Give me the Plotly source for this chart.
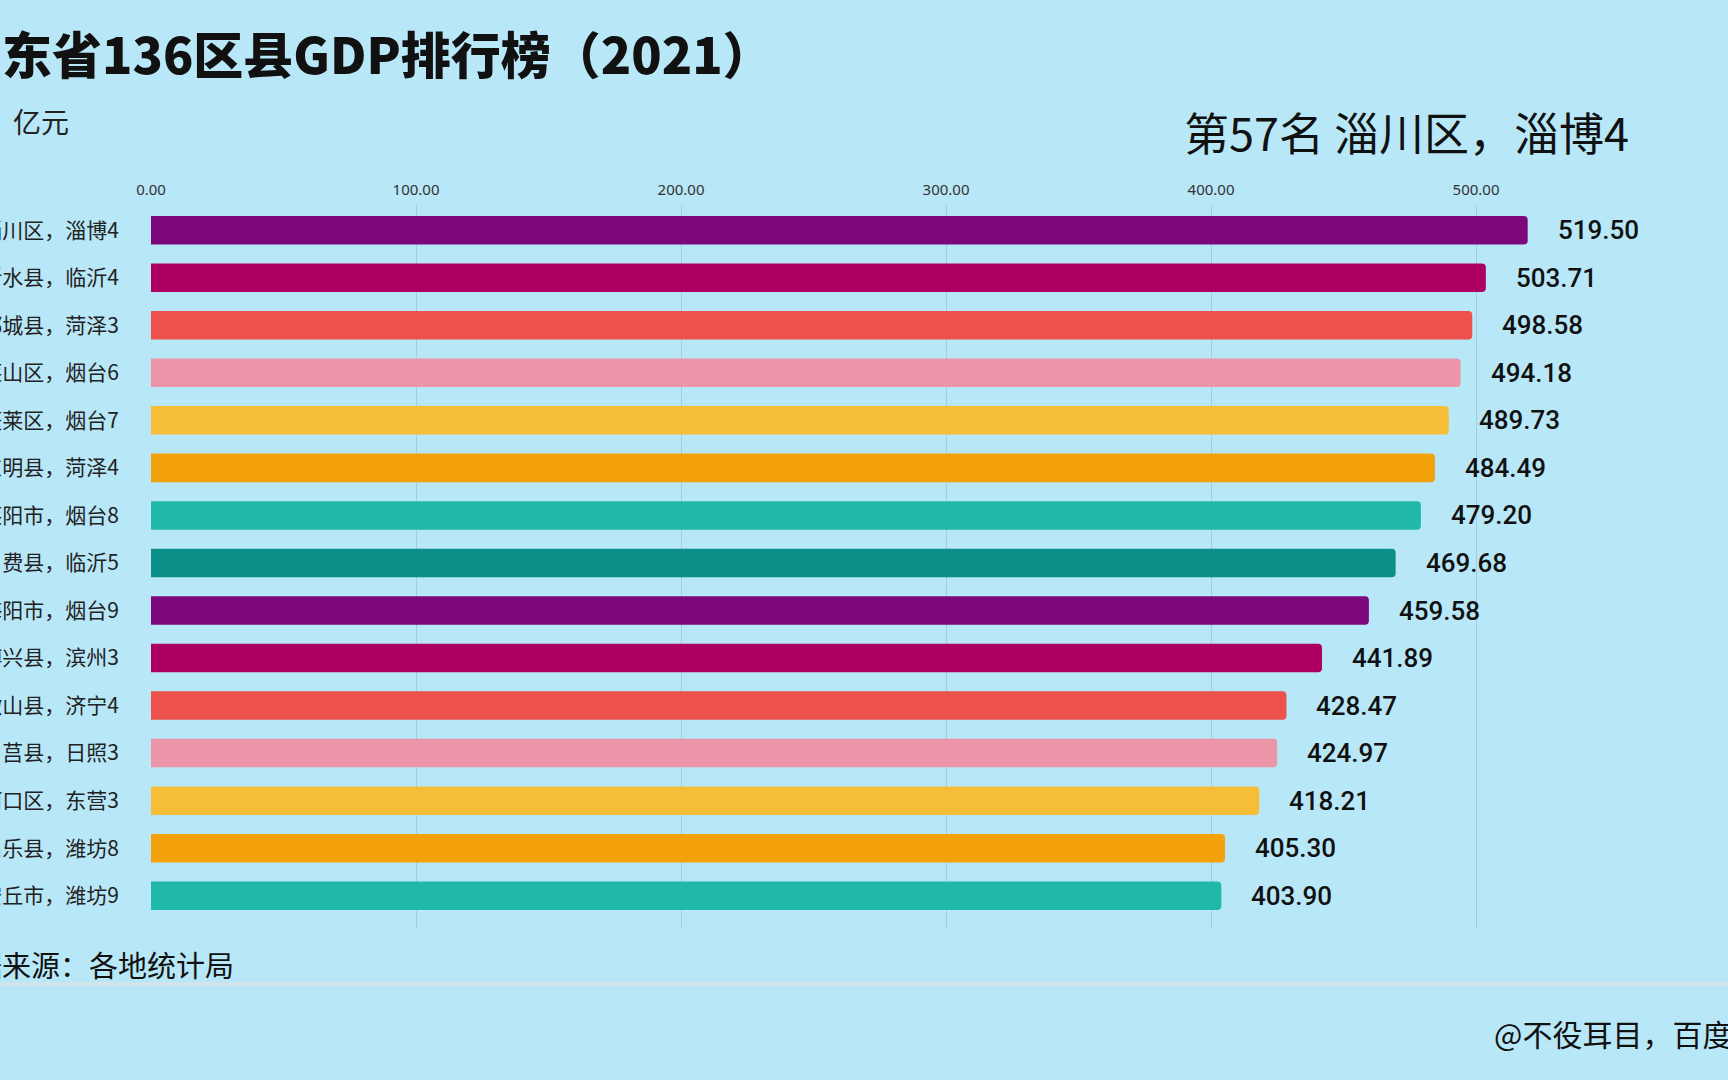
import plotly.graph_objects as go

# 数据
names = ['淄川区，淄博4', '沂水县，临沂4', '郓城县，菏泽3', '莱山区，烟台6', '蓬莱区，烟台7',
         '东明县，菏泽4', '莱阳市，烟台8', '费县，临沂5', '海阳市，烟台9', '博兴县，滨州3',
         '微山县，济宁4', '莒县，日照3', '河口区，东营3', '昌乐县，潍坊8', '安丘市，潍坊9']
gdp = [519.50, 503.71, 498.58, 494.18, 489.73, 484.49, 479.20, 469.68, 459.58, 441.89,
       428.47, 424.97, 418.21, 405.30, 403.90]
tick_vals = [0, 100, 200, 300, 400, 500]

palette = ['#7c077c', '#ad0062', '#ec524b', '#ec95a9', '#f6bd36', '#f3a20b', '#20b8a9', '#0b8f89']
colors = [palette[i % len(palette)] for i in range(len(names))]

W, H = 1728, 1080
L, R, T, B = 151, 40, 205, 151
bg = '#b8e7f8'


def px(x):
    return (x - L) / (W - L - R)


def py(y):
    return (H - B - y) / (H - T - B)


fig = go.Figure()
fig.add_trace(go.Bar(
    x=gdp, y=names, orientation='h',
    marker=dict(color=colors, line=dict(width=0)),
    hoverinfo='x+y',
))

annotations = []
for n, v in zip(names, gdp):
    annotations.append(dict(
        x=v, y=n, xref='x', yref='y', text=f'{v:.2f}', showarrow=False,
        xanchor='left', yanchor='middle', xshift=28,
        font=dict(family='Roboto', size=26, color='#111', weight=500),
    ))

# 标题等文字
annotations += [
    dict(x=px(-50), y=py(52), xref='paper', yref='paper', showarrow=False,
         text='山东省136区县GDP排行榜（2021）', xanchor='left', yanchor='middle',
         font=dict(family='Noto Sans CJK SC', size=50, color='#111', weight=900)),
    dict(x=px(-73), y=py(121), xref='paper', yref='paper', showarrow=False,
         text='单位：亿元', xanchor='left', yanchor='middle',
         font=dict(family='Noto Sans CJK SC', size=28, color='#222')),
    dict(x=px(1631), y=py(132), xref='paper', yref='paper', showarrow=False,
         text='第57名 淄川区，淄博4', xanchor='right', yanchor='middle',
         font=dict(family='Noto Sans CJK SC', size=45, color='#111')),
    dict(x=px(-58), y=py(964), xref='paper', yref='paper', showarrow=False,
         text='数据来源：各地统计局', xanchor='left', yanchor='middle',
         font=dict(family='Noto Sans CJK SC', size=29, color='#111')),
    dict(x=px(1492), y=py(1033), xref='paper', yref='paper', showarrow=False,
         text='@不役耳目，百度', xanchor='left', yanchor='middle',
         font=dict(family='Noto Sans CJK SC', size=30, color='#111')),
]

fig.update_layout(
    width=W, height=H,
    margin=dict(l=L, r=R, t=T, b=B, autoexpand=False),
    paper_bgcolor=bg, plot_bgcolor=bg,
    showlegend=False,
    bargap=0.4,
    barcornerradius=4,
    annotations=annotations,
    shapes=[dict(type='line', xref='paper', yref='paper',
                 x0=px(0), x1=px(W), y0=py(984), y1=py(984),
                 line=dict(color='#d9e3e7', width=3))],
    xaxis=dict(
        side='top', range=[0, 580], tickvals=tick_vals, tickformat='.2f',
        showgrid=True, gridcolor='#a6ccd9', gridwidth=1,
        zeroline=False, showline=False, ticks='',
        ticklabelstandoff=6,
        tickfont=dict(family='Noto Sans', size=15, color='#333'),
        fixedrange=True,
    ),
    yaxis=dict(
        range=[14.7, -0.53], showgrid=False, zeroline=False, showline=False,
        ticks='', ticklabelstandoff=31, automargin=False,
        tickfont=dict(family='Noto Sans CJK SC', size=21, color='#222'),
        fixedrange=True,
    ),
)

fig.write_html('out.html', config={'displayModeBar': False},
               post_script="document.body.style.margin='0';")
